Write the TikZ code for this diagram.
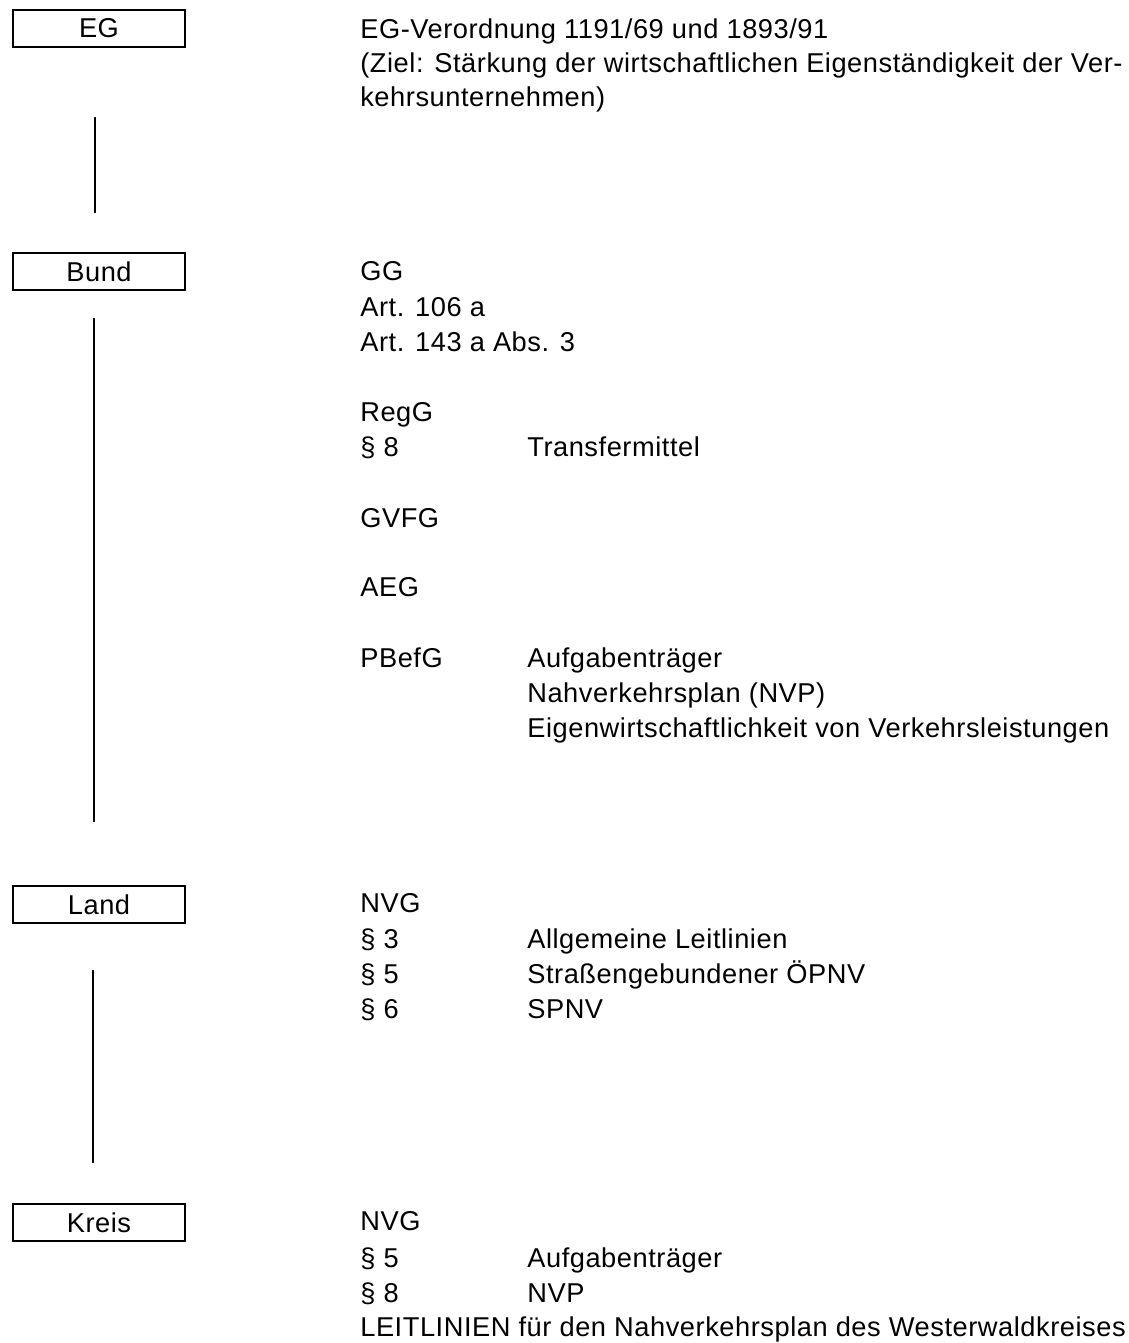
\documentclass[tikz,border=0pt]{standalone}
\usepackage{fontspec}
\setmainfont{Liberation Sans}[LetterSpace=2]
\begin{document}
\begin{tikzpicture}[x=0.02cm,y=-0.02cm,line cap=round,font=\fontsize{15.5}{19}\selectfont,
  lvl/.style={draw,line width=0.6pt,minimum width=3.44cm,minimum height=0.74cm,inner sep=0pt},
  txt/.style={anchor=base west,inner sep=0pt}]
\useasboundingbox (0,0) rectangle (1129,1343);
% Ebenen
\foreach \n/\t/\y in {eg/EG/28.5,bund/Bund/271.5,land/Land/904.5,kreis/Kreis/1222.5}
  \node[lvl] (\n) at (99,\y) {\t};
% Verbindungslinien
\draw[line width=0.7pt,shorten <=1.4cm,shorten >=0.8cm] ([xshift=-0.08cm]eg.south) -- ([xshift=-0.08cm]bund.north);
\draw[line width=0.7pt,shorten <=0.56cm,shorten >=1.28cm] ([xshift=-0.1cm]bund.south) -- ([xshift=-0.1cm]land.north);
\draw[line width=0.7pt,shorten <=0.94cm,shorten >=0.82cm] ([xshift=-0.12cm]land.south) -- ([xshift=-0.12cm]kreis.north);
% Rechtsgrundlagen
\foreach \n/\x/\y/\t in {
  egv/360/38/{EG-Verordnung 1191/69 und 1893/91},
  ziel/360/72/{(Ziel: Stärkung der wirtschaftlichen Eigenständigkeit der Ver-},
  ziel2/360/106/{kehrsunternehmen)},
  gg/360/280/{GG},
  arta/360/316/{Art. 106 a},
  artb/360/351/{Art. 143 a Abs. 3},
  regg/360/421/{RegG},
  regp/360/456/{§ 8},
  regt/527/456/{Transfermittel},
  gvfg/360/527/{GVFG},
  aeg/360/596/{AEG},
  pbefg/360/667/{PBefG},
  pba/527/667/{Aufgabenträger},
  pbb/527/702/{Nahverkehrsplan (NVP)},
  pbc/527/737/{Eigenwirtschaftlichkeit von Verkehrsleistungen},
  lnvg/360/912/{NVG},
  lpa/360/948/{§ 3},
  lta/527/948/{Allgemeine Leitlinien},
  lpb/360/983/{§ 5},
  ltb/527/983/{Straßengebundener ÖPNV},
  lpc/360/1018/{§ 6},
  ltc/527/1018/{SPNV},
  knvg/360/1230/{NVG},
  kpa/360/1267/{§ 5},
  kta/527/1267/{Aufgabenträger},
  kpb/360/1302/{§ 8},
  ktb/527/1302/{NVP},
  kleit/360/1336/{LEITLINIEN für den Nahverkehrsplan des Westerwaldkreises}}
  \node[txt] (\n) at (\x,\y) {\t};
\end{tikzpicture}
\end{document}
